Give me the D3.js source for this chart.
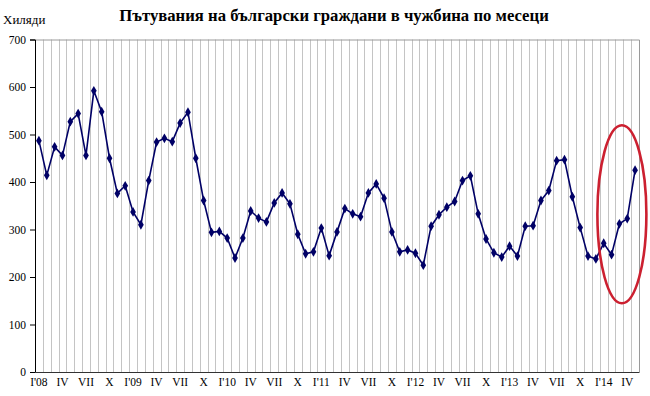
<!DOCTYPE html>
<html>
<head>
<meta charset="utf-8">
<script src="https://cdn.jsdelivr.net/npm/d3@7"></script>
<style>
    body { margin: 0; background: #fff; }
    text { font-family: "Liberation Serif", "Times New Roman", serif; }
</style>
</head>
<body>
<div id="chart"></div>
<script>
// monthly values, thousands, I'08 .. V'14
let v2008 = [487, 414, 474, 456, 527, 544, 456, 592, 548, 450, 376, 392];
let v2009 = [337, 310, 403, 484, 492, 485, 524, 547, 450, 361, 294, 296];
let v2010 = [282, 240, 282, 339, 324, 316, 356, 377, 354, 290, 249, 253];
let v2011 = [303, 245, 295, 344, 333, 327, 377, 396, 366, 295, 253, 257];
let v2012 = [250, 225, 307, 331, 347, 359, 403, 413, 333, 280, 251, 242];
let v2013 = [265, 244, 307, 308, 361, 382, 445, 447, 369, 304, 244, 238];
let v2014 = [271, 247, 312, 323, 425];

let values = [].concat(v2008, v2009, v2010, v2011, v2012, v2013, v2014);

let xLabels = ["I'08", "IV", "VII", "X", "I'09", "IV", "VII", "X", "I'10", "IV", "VII", "X",
               "I'11", "IV", "VII", "X", "I'12", "IV", "VII", "X", "I'13", "IV", "VII", "X",
               "I'14", "IV"];
let yTicks = [0, 100, 200, 300, 400, 500, 600, 700];

let title = "Пътувания на български граждани в чужбина по месеци";
let yTitle = "Хиляди";

let width = 650;
let height = 396;
let margin = { top: 39.5, right: 11, bottom: 24, left: 35 };
let chartWidth = width - margin.left - margin.right;
let chartHeight = height - margin.top - margin.bottom;

let svg = d3.select("#chart")
            .append("svg")
            .attr("width", width)
            .attr("height", height);

let chartGroup = svg.append("g").attr("transform", `translate(${margin.left}, ${margin.top})`);

let xScale = d3.scaleBand()
                .domain(d3.range(values.length))
                .range([0, chartWidth]);

let yScale = d3.scaleLinear()
                .domain([0, 700])
                .range([chartHeight, 0]);

// vertical gridlines between months
chartGroup.append("g")
    .selectAll("line")
    .data(d3.range(1, values.length))
    .enter()
    .append("line")
    .attr("x1", d => Math.round(xScale(d)) + 0.5)
    .attr("x2", d => Math.round(xScale(d)) + 0.5)
    .attr("y1", 0)
    .attr("y2", chartHeight)
    .style("stroke", "#c4c4c4")
    .style("stroke-width", 1);

// top and right border
chartGroup.append("path")
    .attr("d", `M0,0.5H${chartWidth + 0.5}V${chartHeight}`)
    .style("fill", "none")
    .style("stroke", "#9a9a9a");

// y axis
let yAxis = d3.axisLeft(yScale).tickValues(yTicks).tickSize(5).tickPadding(4);
let yG = chartGroup.append("g").call(yAxis);
yG.select(".domain").style("stroke", "#000");
yG.selectAll("text").style("font-size", "11.5px").style("fill", "#000");

// x axis
let xAxis = d3.axisBottom(xScale)
                .tickValues(d3.range(0, values.length, 3))
                .tickFormat((d, i) => xLabels[i])
                .tickSize(0)
                .tickPadding(6);
let xG = chartGroup.append("g")
    .attr("transform", `translate(0, ${chartHeight})`)
    .call(xAxis);
xG.select(".domain").style("stroke", "#333");
xG.selectAll("text").style("font-size", "11.5px").style("fill", "#000");

// line
let line = d3.line()
    .x((d, i) => xScale(i) + xScale.bandwidth() / 2)
    .y(d => yScale(d));

chartGroup.append("path")
    .datum(values)
    .attr("d", line)
    .style("fill", "none")
    .style("stroke", "#000066")
    .style("stroke-width", 1.6);

// diamond markers
chartGroup.selectAll(".marker")
    .data(values)
    .enter()
    .append("path")
    .attr("class", "marker")
    .attr("d", d3.symbol().type(d3.symbolDiamond).size(28))
    .attr("transform", (d, i) => `translate(${xScale(i) + xScale.bandwidth() / 2}, ${yScale(d)})`)
    .style("fill", "#000066");

// red ellipse around last months of 2014
let firstHi = values.length - 5;
let ex = (xScale(firstHi) + xScale(values.length - 1) + xScale.bandwidth()) / 2 + 2.5;
chartGroup.append("ellipse")
    .attr("cx", ex)
    .attr("cy", yScale(332))
    .attr("rx", 24.5)
    .attr("ry", 89)
    .style("fill", "none")
    .style("stroke", "#cc2030")
    .style("stroke-width", 2.6);

// titles
svg.append("text")
    .attr("x", 334)
    .attr("y", 21)
    .attr("text-anchor", "middle")
    .style("font-size", "16.7px")
    .style("font-weight", "bold")
    .text(title);

svg.append("text")
    .attr("x", 3)
    .attr("y", 24)
    .style("font-size", "13px")
    .text(yTitle);
</script>
</body>
</html>
